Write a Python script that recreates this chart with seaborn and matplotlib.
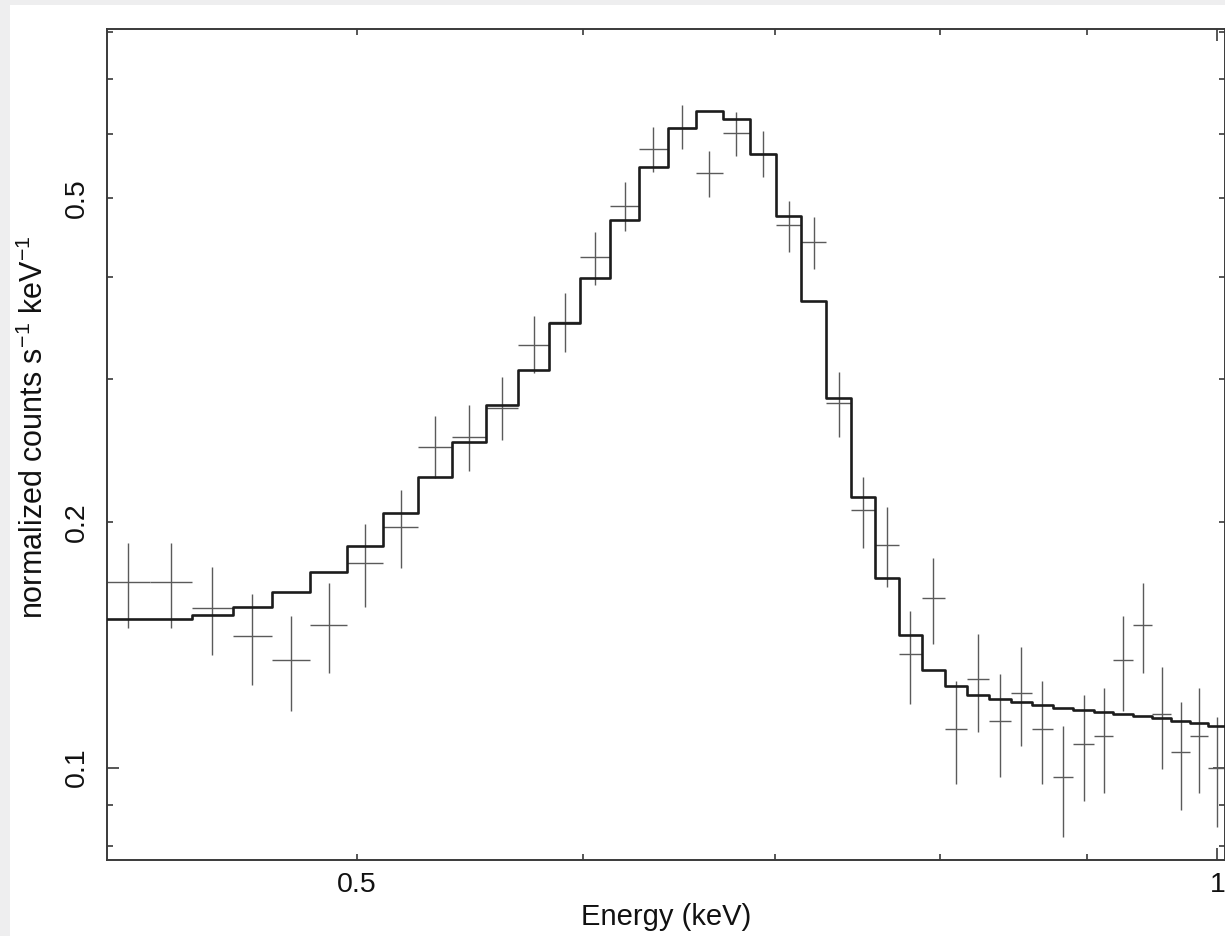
import numpy as np
import pandas as pd
import matplotlib
matplotlib.use("Agg")
import matplotlib.pyplot as plt
import seaborn as sns
from matplotlib.ticker import FixedLocator, FuncFormatter
from matplotlib.patches import Rectangle

# ---- data ----
bin_edges_keV = [0.4085, 0.4231, 0.4377, 0.4523, 0.4669, 0.4815, 0.4961, 0.5107,
                 0.5253, 0.5399, 0.5546, 0.5692, 0.5838, 0.5984, 0.6130, 0.6276,
                 0.6422, 0.6568, 0.6714, 0.6860, 0.7006, 0.7152, 0.7298, 0.7444,
                 0.7590, 0.7736, 0.7882, 0.8028, 0.8174, 0.8320, 0.8467, 0.8613,
                 0.8759, 0.8905, 0.9051, 0.9197, 0.9343, 0.9489, 0.9635, 0.9781,
                 0.9927, 1.0073]

model_rate = [0.1524, 0.1524, 0.1538, 0.1576, 0.1641, 0.1738, 0.1872, 0.2053,
              0.2275, 0.2512, 0.2789, 0.3080, 0.3518, 0.3993, 0.4699, 0.5464,
              0.6102, 0.6402, 0.6251, 0.5663, 0.4752, 0.3743, 0.2845, 0.2150,
              0.1709, 0.1454, 0.1319, 0.1259, 0.1229, 0.1213, 0.1203, 0.1194,
              0.1185, 0.1177, 0.1170, 0.1163, 0.1156, 0.1149, 0.1141, 0.1134,
              0.1126]

data_rate = [0.1688, 0.1688, 0.1569, 0.1452, 0.1355, 0.1496, 0.1781, 0.1974,
             0.2477, 0.2549, 0.2766, 0.3306, 0.3528, 0.4232, 0.4898, 0.5750,
             0.6102, 0.5367, 0.6017, 0.5674, 0.4633, 0.4415, 0.2805, 0.2073,
             0.1877, 0.1379, 0.1616, 0.1116, 0.1284, 0.1141, 0.1235, 0.1116,
             0.0974, 0.1069, 0.1092, 0.1355, 0.1496, 0.1165, 0.1044, 0.1093,
             0.0999]

data_upper = [0.1887, 0.1887, 0.1761, 0.1634, 0.1535, 0.1684, 0.1991, 0.2193,
              0.2704, 0.2789, 0.3020, 0.3588, 0.3830, 0.4547, 0.5231, 0.6119,
              0.6517, 0.5722, 0.6384, 0.6044, 0.4958, 0.4744, 0.3062, 0.2275,
              0.2091, 0.1559, 0.1808, 0.1279, 0.1458, 0.1303, 0.1406, 0.1279,
              0.1126, 0.1228, 0.1254, 0.1533, 0.1684, 0.1330, 0.1203, 0.1254,
              0.1153]

data_lower = [0.1486, 0.1486, 0.1375, 0.1263, 0.1174, 0.1308, 0.1576, 0.1757,
              0.2268, 0.2314, 0.2527, 0.3053, 0.3241, 0.3909, 0.4555, 0.5382,
              0.5755, 0.5014, 0.5631, 0.5312, 0.4303, 0.4094, 0.2549, 0.1862,
              0.1668, 0.1197, 0.1419, 0.0954, 0.1107, 0.0975, 0.1064, 0.0954,
              0.0821, 0.0910, 0.0930, 0.1175, 0.1308, 0.0996, 0.0887, 0.0930,
              0.0846]

x_label_ticks = [0.5, 1.0]
x_tick_text = ["0.5", "1"]
y_label_ticks = [0.1, 0.2, 0.5]
y_tick_text = ["0.1", "0.2", "0.5"]

# ---- figure ----
sns.set_theme(style="white")
plt.rcParams["font.family"] = ["Liberation Sans", "DejaVu Sans"]
plt.rcParams["mathtext.default"] = "regular"

W, H = 1225, 936
fig = plt.figure(figsize=(W / 100, H / 100), dpi=100, facecolor="#eeeeef")
fig.patches.append(Rectangle((10 / W, 0), 1, (H - 5) / H, transform=fig.transFigure,
                             facecolor="white", edgecolor="none", zorder=-10))

left, right, top, bottom = 107, 1225, 28.7, 860
ax = fig.add_axes([left / W, 1 - bottom / H, (right - left) / W, (bottom - top) / H])
ax.set_facecolor("white")
ax.set_xscale("log")
ax.set_yscale("log")

edges = np.array(bin_edges_keV)
centers = 0.5 * (edges[:-1] + edges[1:])
halfw = 0.5 * (edges[1:] - edges[:-1])
rate = np.array(data_rate)
lo = np.array(data_lower)
hi = np.array(data_upper)

ax.errorbar(centers, rate, xerr=halfw, yerr=[rate - lo, hi - rate], fmt="none",
            ecolor="#5a5a5a", elinewidth=1.0, capsize=0, zorder=2)

model_df = pd.DataFrame({"E": edges, "model": model_rate + [model_rate[-1]]})
sns.lineplot(data=model_df, x="E", y="model", drawstyle="steps-post", color="#1c1c1c",
             linewidth=1.9, estimator=None, sort=False, ax=ax, zorder=3)

ax.set_xlim(0.4088, 1.0062)
ax.set_ylim(0.077, 0.808)

# ticks: long ticks at decades, short elsewhere
ax.xaxis.set_major_locator(FixedLocator([1.0]))
ax.xaxis.set_minor_locator(FixedLocator([0.5, 0.6, 0.7, 0.8, 0.9]))
ax.yaxis.set_major_locator(FixedLocator([0.1]))
ax.yaxis.set_minor_locator(FixedLocator([0.08, 0.09, 0.2, 0.3, 0.4, 0.5, 0.6, 0.7, 0.8]))

xlab = dict(zip(x_label_ticks, x_tick_text))
ylab = dict(zip(y_label_ticks, y_tick_text))

def fmt_from(d):
    def f(v, pos):
        for k, s in d.items():
            if abs(v - k) < 1e-6:
                return s
        return ""
    return FuncFormatter(f)

ax.xaxis.set_major_formatter(fmt_from(xlab))
ax.xaxis.set_minor_formatter(fmt_from(xlab))
ax.yaxis.set_major_formatter(fmt_from(ylab))
ax.yaxis.set_minor_formatter(fmt_from(ylab))

ax.tick_params(which="both", direction="in", top=True, right=True, bottom=True, left=True,
               labelsize=20.5, color="#3a3a3a", width=1.2, labelcolor="#111111")
ax.tick_params(which="major", length=8.8)
ax.tick_params(which="minor", length=4.6)
ax.tick_params(axis="x", which="both", pad=9)
ax.tick_params(axis="y", which="both", pad=12, labelrotation=90)
for lab in ax.get_yticklabels(which="both"):
    lab.set_verticalalignment("center")

for s in ax.spines.values():
    s.set_color("#3a3a3a")
    s.set_linewidth(1.4)
    s.set_visible(True)

ax.set_xlabel("Energy (keV)", fontsize=21, color="#111111", labelpad=3)
ax.set_ylabel(r"normalized counts s$^{-1}$ keV$^{-1}$", fontsize=22, color="#111111")
ax.yaxis.set_label_coords(-0.051, 0.521)

fig.savefig("out.png", dpi=100, facecolor=fig.get_facecolor())
